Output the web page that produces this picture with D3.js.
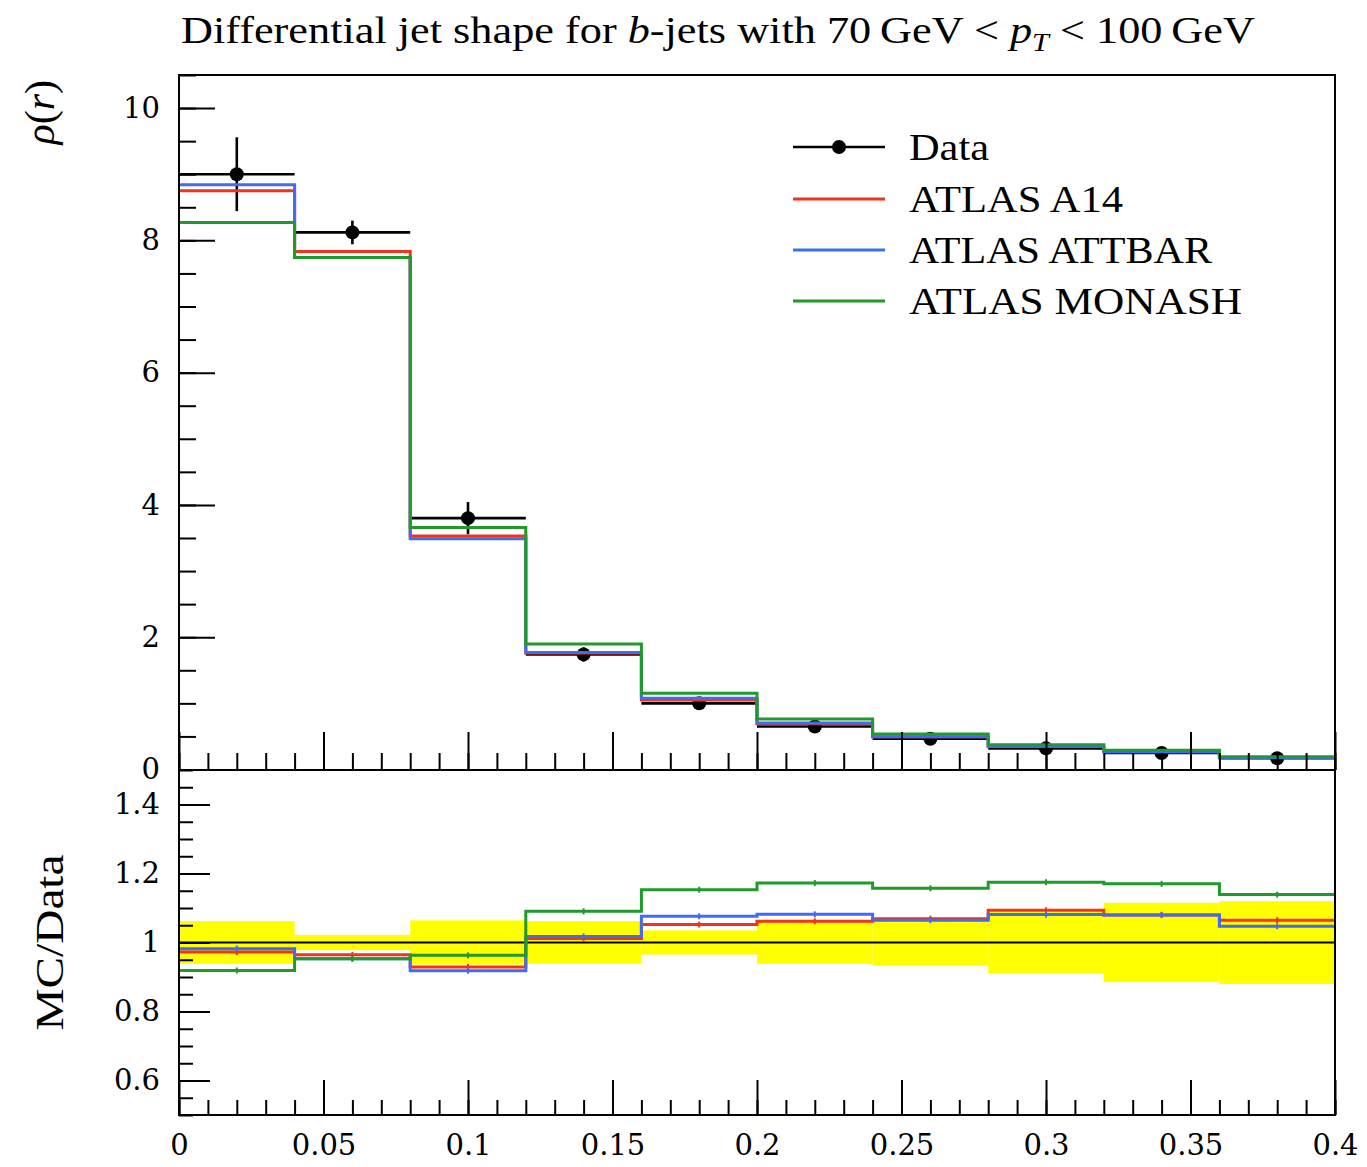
<!DOCTYPE html>
<html>
<head>
<meta charset="utf-8">
<script src="https://cdn.jsdelivr.net/npm/d3@7"></script>
<style>
  html, body { margin: 0; padding: 0; background: #fff; }
  svg { display: block; }
  text { font-family: "Liberation Serif", "DejaVu Serif", serif; fill: #000; font-variant-numeric: oldstyle-nums; }
</style>
</head>
<body>
<svg id="chart" width="1367" height="1167"></svg>
<script>
// Bin edges in r and jet-shape values per bin
const binEdges = [0, 0.04, 0.08, 0.12, 0.16, 0.20, 0.24, 0.28, 0.32, 0.36, 0.40];
const dataValues = [9.00, 8.12, 3.80, 1.74, 1.00, 0.650, 0.465, 0.320, 0.250, 0.170];
const dataRelErr = [0.062, 0.022, 0.064, 0.062, 0.035, 0.062, 0.067, 0.089, 0.115, 0.120];
const a14Values    = [8.75, 7.83, 3.53, 1.76, 1.052, 0.690, 0.497, 0.350, 0.270, 0.181];
const attbarValues = [8.84, 7.74, 3.49, 1.77, 1.076, 0.703, 0.495, 0.346, 0.270, 0.178];
const monashValues = [8.27, 7.74, 3.66, 1.897, 1.153, 0.762, 0.538, 0.376, 0.2925, 0.1936];

const seriesNames  = ["ATLAS A14", "ATLAS ATTBAR", "ATLAS MONASH"];
const seriesColors = ["#f3331d", "#3f6cf2", "#1f9a2b"];
const legendLabels = ["Data"].concat(seriesNames);

const xTickValues = [0, 0.05, 0.1, 0.15, 0.2, 0.25, 0.3, 0.35, 0.4];
const xTickLabels = ["0", "0.05", "0.1", "0.15", "0.2", "0.25", "0.3", "0.35", "0.4"];
const yTickValues = [0, 2, 4, 6, 8, 10];
const yTickLabels = ["0", "2", "4", "6", "8", "10"];
const rTickValues = [0.6, 0.8, 1.0, 1.2, 1.4];
const rTickLabels = ["0.6", "0.8", "1", "1.2", "1.4"];

const svg = d3.select("#chart");

const left = 179, right = 1335;
const topY0 = 75, topY1 = 770, ratY1 = 1115;

const x = d3.scaleLinear().domain([0, 0.4]).range([left, right]);
const y = d3.scaleLinear().domain([0, 10.5]).range([769.5, topY0]);
const yr = d3.scaleLinear().domain([0.5, 1.5]).range([ratY1, topY1]);

const mcSeries = [a14Values, attbarValues, monashValues];

// Histogram path: horizontal segment per bin joined by vertical steps
function stepPoints(values) {
  const pts = values.map((v, i) => [binEdges[i], v]);
  pts.push([binEdges[binEdges.length - 1], values[values.length - 1]]);
  return pts;
}
const stepLine = ys => d3.line().x(d => x(d[0])).y(d => ys(d[1])).curve(d3.curveStepAfter);

const centers = dataValues.map((_, i) => (binEdges[i] + binEdges[i + 1]) / 2);

// ---------- Main panel ----------
const main = svg.append("g");

// data points with error bars
const dataG = main.append("g").attr("stroke", "#000").attr("stroke-width", 2.6);
dataValues.forEach((v, i) => {
  const e = v * dataRelErr[i];
  dataG.append("line").attr("x1", x(binEdges[i])).attr("x2", x(binEdges[i + 1]))
    .attr("y1", y(v)).attr("y2", y(v));
  dataG.append("line").attr("x1", x(centers[i])).attr("x2", x(centers[i]))
    .attr("y1", y(v - e)).attr("y2", y(v + e));
});
main.append("g").selectAll("circle").data(dataValues).join("circle")
  .attr("cx", (d, i) => x(centers[i])).attr("cy", d => y(d)).attr("r", 7).attr("fill", "#000");

mcSeries.forEach((vals, k) => {
  main.append("path").datum(stepPoints(vals))
    .attr("d", stepLine(y)).attr("fill", "none")
    .attr("stroke", seriesColors[k]).attr("stroke-width", 3);
});

// axes of main panel (ticks pointing inward)
main.append("g").attr("transform", `translate(${left},0)`)
  .call(d3.axisLeft(y).tickValues(d3.range(0, 10.51, 0.5)).tickSizeInner(-17).tickSizeOuter(0).tickFormat(""))
  .call(g => g.select(".domain").remove());
main.append("g").attr("transform", `translate(${left},0)`)
  .call(d3.axisLeft(y).tickValues(yTickValues).tickSizeInner(-36).tickSizeOuter(0).tickPadding(19)
    .tickFormat((d, i) => yTickLabels[i]))
  .call(g => g.select(".domain").remove());
main.append("g").attr("transform", `translate(0,${topY1})`)
  .call(d3.axisBottom(x).tickValues(d3.range(0, 41).map(i => i / 100)).tickSizeInner(-17).tickSizeOuter(0).tickFormat(""))
  .call(g => g.select(".domain").remove());
main.append("g").attr("transform", `translate(0,${topY1})`)
  .call(d3.axisBottom(x).tickValues(xTickValues).tickSizeInner(-38).tickSizeOuter(0).tickFormat(""))
  .call(g => g.select(".domain").remove());

// ---------- Ratio panel ----------
const ratio = svg.append("g");

// uncertainty band of the data
ratio.append("g").selectAll("rect").data(dataRelErr).join("rect")
  .attr("x", (d, i) => x(binEdges[i])).attr("width", (d, i) => x(binEdges[i + 1]) - x(binEdges[i]))
  .attr("y", d => yr(1 + d)).attr("height", d => yr(1 - d) - yr(1 + d))
  .attr("fill", "#ffff00");

ratio.append("line").attr("x1", x(0)).attr("x2", x(0.4)).attr("y1", yr(1)).attr("y2", yr(1))
  .attr("stroke", "#000").attr("stroke-width", 2);

mcSeries.forEach((vals, k) => {
  const r = vals.map((v, i) => v / dataValues[i]);
  ratio.append("path").datum(stepPoints(r))
    .attr("d", stepLine(yr)).attr("fill", "none")
    .attr("stroke", seriesColors[k]).attr("stroke-width", 3);
  ratio.append("g").selectAll("line").data(r).join("line")
    .attr("x1", (d, i) => x(centers[i])).attr("x2", (d, i) => x(centers[i]))
    .attr("y1", d => yr(d) - 3).attr("y2", d => yr(d) + 3)
    .attr("stroke", seriesColors[k]).attr("stroke-width", 2);
});

ratio.append("g").attr("transform", `translate(${left},0)`)
  .call(d3.axisLeft(yr).tickValues(d3.range(10, 31).map(i => i / 20)).tickSizeInner(-14).tickSizeOuter(0).tickFormat(""))
  .call(g => g.select(".domain").remove());
ratio.append("g").attr("transform", `translate(${left},0)`)
  .call(d3.axisLeft(yr).tickValues(rTickValues).tickSizeInner(-31).tickSizeOuter(0).tickPadding(19)
    .tickFormat((d, i) => rTickLabels[i]))
  .call(g => g.select(".domain").remove());
ratio.append("g").attr("transform", `translate(0,${ratY1})`)
  .call(d3.axisBottom(x).tickValues(d3.range(0, 41).map(i => i / 100)).tickSizeInner(-15).tickSizeOuter(0).tickFormat(""))
  .call(g => g.select(".domain").remove());
ratio.append("g").attr("transform", `translate(0,${ratY1})`)
  .call(d3.axisBottom(x).tickValues(xTickValues).tickSizeInner(-35).tickSizeOuter(0).tickPadding(19)
    .tickFormat((d, i) => xTickLabels[i]))
  .call(g => g.select(".domain").remove());

svg.selectAll(".tick line").attr("stroke", "#000").attr("stroke-width", 2);
svg.selectAll(".tick text").attr("font-size", 29).attr("fill", "#000")
  .style("font-family", '"DejaVu Serif", "Liberation Serif", serif');

// frames
[[topY0, topY1], [topY1, ratY1]].forEach(([t, b]) => {
  svg.append("rect").attr("x", left).attr("y", t).attr("width", right - left).attr("height", b - t)
    .attr("fill", "none").attr("stroke", "#000").attr("stroke-width", 2);
});

// ---------- Title and axis labels ----------
const title = svg.append("text").attr("x", 181).attr("y", 43).attr("font-size", 38)
  .attr("textLength", 1074).attr("lengthAdjust", "spacingAndGlyphs");
title.append("tspan").text("Differential jet shape for ");
title.append("tspan").attr("font-style", "italic").text("b");
title.append("tspan").text("-jets with 70\u2009GeV < ");
title.append("tspan").attr("font-style", "italic").text("p");
title.append("tspan").attr("font-style", "italic").attr("font-size", 26).attr("dy", 8).text("T");
title.append("tspan").attr("dy", -8).text(" < 100\u2009GeV");

const yl = svg.append("text").attr("transform", "translate(54,80) rotate(-90)")
  .attr("text-anchor", "end").attr("font-size", 42);
yl.append("tspan").attr("font-style", "italic").text("\u03c1");
yl.append("tspan").text("(");
yl.append("tspan").attr("font-style", "italic").text("r");
yl.append("tspan").text(")");

svg.append("text").attr("transform", `translate(63,${yr(1)}) rotate(-90)`)
  .attr("text-anchor", "middle").attr("font-size", 40)
  .attr("textLength", 176).attr("lengthAdjust", "spacingAndGlyphs").text("MC/Data");

// ---------- Legend ----------
const legend = svg.append("g");
const legY = [147, 199, 250, 301];
const legTextWidths = [80, 214, 303, 333];
legend.append("line").attr("x1", 793).attr("x2", 885).attr("y1", legY[0]).attr("y2", legY[0])
  .attr("stroke", "#000").attr("stroke-width", 2.6);
legend.append("circle").attr("cx", 839).attr("cy", legY[0]).attr("r", 7).attr("fill", "#000");
seriesNames.forEach((name, k) => {
  legend.append("line").attr("x1", 793).attr("x2", 885).attr("y1", legY[k + 1]).attr("y2", legY[k + 1])
    .attr("stroke", seriesColors[k]).attr("stroke-width", 3);
});
legendLabels.forEach((label, k) => {
  legend.append("text").attr("x", 909).attr("y", legY[k] + 13).attr("font-size", 38)
    .attr("textLength", legTextWidths[k]).attr("lengthAdjust", "spacingAndGlyphs").text(label);
});
</script>
</body>
</html>
